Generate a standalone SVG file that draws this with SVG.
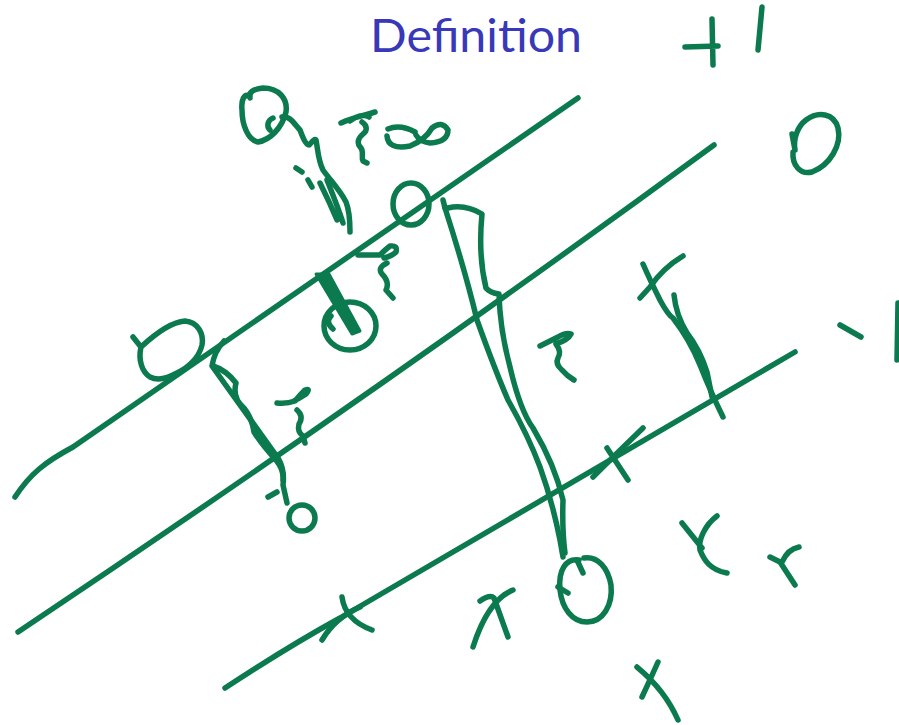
<svg xmlns="http://www.w3.org/2000/svg" width="899" height="725" viewBox="0 0 899 725">
<style>
.t{font-family:Lato,"Open Sans","Liberation Sans",sans-serif;font-size:46px;fill:#3838b8}
.p{fill:none;stroke:#0b7a4f;stroke-width:5.5;stroke-linecap:round;stroke-linejoin:round}
.f{fill:#0b7a4f;stroke:#0b7a4f;stroke-width:3;stroke-linejoin:round}
</style>
<rect width="899" height="725" fill="#ffffff"/>
<text class="t" x="370" y="52" textLength="212" lengthAdjust="spacingAndGlyphs">Definition</text>
<g id="lines" class="p">
<path d="M15,497 C30,474 45,462 73,447 Q330,270 578,98"/>
<path d="M18,632 Q380,390 714,145"/>
<path d="M225,688 C260,665 300,640 340,618 L795,352"/>
</g>
<g id="labels" class="p">
<path d="M685,47 L718,46 M712,19 L713,65 M762,7 L758,50"/>
<path d="M792,134 L795,150 M793,152 C792,165 800,175 812,172 C830,165 842,145 838,128 C834,113 818,111 806,120 C798,126 793,138 795,150"/>
<path d="M840,325 L861,337 M898,303 L897,360"/>
</g>
<g id="topleft" class="p">
<path d="M250,96 C244,93 241,100 242,110 C242,125 248,140 258,142 C270,140 282,128 286,112 C288,98 278,88 263,88 C254,89 248,92 250,98"/>
<path d="M270,130 C266,126 268,120 273,118"/>
<path d="M282,117 C290,115 295,125 300,130 C303,138 306,145 309,145 C312,142 315,138 316,140 C318,150 318,160 323,170 C330,180 340,190 346,202 C350,212 350,222 350,232"/>
<path d="M320,183 C326,195 332,208 337,220 M327,180 C333,195 339,210 343,223"/>
<path d="M296,168 L302,172 M308,180 L312,187"/>
<path d="M341,123 C352,118 362,116 375,112 M350,121 C356,116 364,114 369,117"/>
<path d="M362,122 C368,126 367,131 363,134 C357,139 357,144 361,148 C364,152 361,158 363,161 L367,163"/>
<path d="M388,129 Q400,124 415,132"/>
<path d="M387,136 Q388,150 410,146 Q425,140 432,128 Q442,120 448,130 Q448,142 430,143 Q420,142 416,135"/>
<ellipse cx="411" cy="204" rx="18" ry="21"/>
</g>
<g id="middle" class="p">
<path d="M133,337 L141,347 C155,334 172,322 185,321 C198,322 204,334 202,345 C199,358 188,368 177,373 C168,378 158,381 150,377 C142,372 138,360 141,347"/>
<path d="M224,341 Q214,352 212,366 L278,458 Q285,470 283,485 L287,503"/>
<path d="M213,366 Q226,370 236,383 Q232,398 244,408 Q252,418 254,432 Q262,445 276,460 Q284,470 283,480"/>
<path d="M268,497 L277,492"/>
<circle cx="302" cy="518" r="13"/>
<path d="M277,403 Q287,404 295,401 Q300,395 305,390 Q311,388 306,394 Q300,398 294,401 M297,410 Q304,416 299,424 Q297,432 303,436 L305,443"/>
<path d="M358,255 L380,255 Q386,249 390,246 Q398,245 396,252 Q392,256 384,258 M387,263 Q377,268 382,274 Q390,282 386,290 L393,298"/>
<ellipse cx="350" cy="326" rx="26" ry="24"/>
<path d="M331,316 Q325,322 333,329"/>
</g>
<polygon class="f" points="316,274 329,274 360,331 352,334"/>
<g id="center" class="p">
<path d="M443,200 L445,208 M448,208 Q465,204 482,214 Q478,255 486,288 Q490,293 499,294 Q500,330 510,367 Q520,410 533,428 Q555,465 563,500 Q562,530 565,553"/>
<path d="M445,208 Q465,270 477,320 Q495,370 508,400 Q528,435 540,467 Q552,500 560,540 L563,557"/>
<path d="M577,560 L583,573 M579,560 C566,558 558,570 560,590 C562,608 572,622 587,622 C603,622 613,605 611,585 C608,568 598,556 584,558"/>
<path d="M558,587 L568,593"/>
<path d="M540,346 Q552,340 558,337 Q566,332 571,334 Q568,340 556,344 M556,344 Q562,352 558,358 Q555,364 562,370 Q567,376 574,380"/>
</g>
<g id="marks" class="p">
<path d="M683,256 Q663,268 650,287 L640,298"/>
<path d="M643,264 Q650,280 660,300 Q668,315 673,318 Q690,340 700,365 Q712,395 723,417"/>
<path d="M674,295 Q676,315 687,333 Q700,350 707,372 L712,397"/>
<path d="M342,597 Q345,620 372,630 M322,640 Q335,618 360,607"/>
<path d="M607,448 L628,480 M593,477 Q612,458 643,428"/>
<path d="M473,647 Q488,600 513,590 M480,601 Q490,594 494,598 L508,637"/>
<path d="M682,523 L702,548 M717,516 C705,525 698,540 700,550 C704,560 710,570 727,573"/>
<path d="M770,557 L780,562 L795,585 M799,547 Q788,549 782,562"/>
<path d="M637,667 Q665,690 678,720 M658,662 Q650,680 642,697"/>
</g>
</svg>
